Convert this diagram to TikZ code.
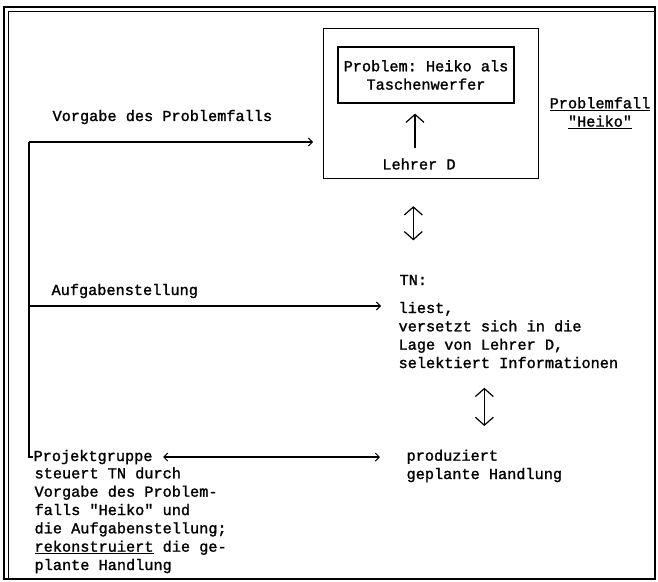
\documentclass[tikz,border=0pt]{standalone}
\usepackage{fontspec}
\setmonofont{Liberation Mono}[FakeBold=1.4]
\usetikzlibrary{arrows.meta}

\tikzset{
  chevron/.tip={Straight Barb[length=4bp,width=8bp,line width=1bp]},
  vhead/.tip={Straight Barb[length=8bp,width=18bp,line width=1.2bp]},
  % multi-line nodes sit on the baseline of their last line
  txt/.style={anchor=base west,align=left},
}

\begin{document}
\begin{tikzpicture}[x=1bp,y=-1bp,line width=1.2bp,
    every node/.style={font=\ttfamily\fontsize{15.3}{18.4}\selectfont,inner sep=0pt}]
  \useasboundingbox (0,0) rectangle (658,582);
  % frame
  \draw[line width=1.5bp] (4,7) rectangle (655,579);
  \draw[line width=0.7bp] (8,579) -- (8,11) -- (655,11);

  % the case
  \node[draw,anchor=north west,minimum width=215bp,minimum height=150bp] (fallbox) at (323,28) {};
  \node[draw,align=center,minimum width=176bp,minimum height=56bp] (problem) at (426,75) {Problem: Heiko als\\Taschenwerfer};
  \node (lehrer) at (419,164) {Lehrer D};
  \draw[-{vhead},shorten <=10bp,shorten >=10bp] ([xshift=-4bp]lehrer.north) -- ([xshift=-4bp]lehrer.north |- problem.south);
  \node[align=center] (fall) at (600,113) {\underline{Problemfall}\\\underline{"Heiko"}};

  % left hand side
  \coordinate (top) at (29,142);
  \coordinate (mid) at (29,306);
  \node[txt] (vorgabe) at (52,121) {Vorgabe des Problemfalls};
  \node[txt] (aufgabe) at (51,295) {Aufgabenstellung};
  \node[txt] (projgrp) at (33,461) {Projektgruppe};
  \node[txt] (steuert) at (34,570) {steuert TN durch\\Vorgabe des Problem-\\falls "Heiko" und\\die Aufgabenstellung;\\\underline{rekonstruiert} die ge-\\plante Handlung};

  % right hand side
  \node[txt] (tn) at (399,285) {TN:};
  \node[txt] (liest) at (398,368) {liest,\\versetzt sich in die\\Lage von Lehrer D,\\selektiert Informationen};
  \node[txt] (prod) at (406,479) {produziert\\geplante Handlung};

  % connectors
  \draw (top) -- (top |- projgrp.west) -- (projgrp.west);
  \draw[-{chevron},shorten >=10bp] (top) -- (top -| fallbox.west);
  \draw[-{chevron},shorten >=17bp] (mid) -- (mid -| liest.west);
  \draw[{chevron}-{chevron},shorten <=10bp,shorten >=26bp] (projgrp.east) -- (projgrp.east -| prod.west);
  \draw[{vhead}-{vhead},shorten <=27bp,shorten >=34bp] (tn.north |- fallbox.south) -- (tn.north);
  \draw[{vhead}-{vhead},shorten <=19bp,shorten >=23bp] (prod.north |- liest.south) -- (prod.north);
\end{tikzpicture}
\end{document}
